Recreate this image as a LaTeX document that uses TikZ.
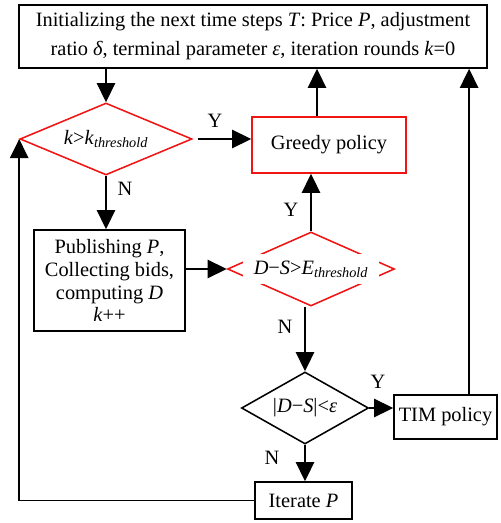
\documentclass[tikz,border=0pt]{standalone}
\usepackage{fontspec}
\setmainfont{Liberation Serif}
\usetikzlibrary{arrows.meta, shapes.geometric}

\begin{document}
\begin{tikzpicture}[x=0.025cm, y=-0.025cm, >={Triangle[length=0.48cm, width=0.46cm]},
  every node/.style={font=\fontsize{14.5}{17}\selectfont},
  procbox/.style={draw, line width=1.1pt, align=center, inner sep=0pt},
  decision/.style={diamond, aspect=2.4, draw, line width=1.1pt, inner sep=0pt},
  flow/.style={->, line width=1.2pt},
  yn/.style={fill=white, inner sep=1pt}]

\definecolor{greedyred}{RGB}{240, 20, 20}

\useasboundingbox (0, 0) rectangle (500, 523);

\node[procbox, minimum width=11.7cm, minimum height=1.575cm, font=\fontsize{14.5}{20.6}\selectfont] (init) at (253, 36.5) {Initializing the next time steps \textit{T}: Price \textit{P}, adjustment\\ ratio \textit{δ}, terminal parameter \textit{ε}, iteration rounds \textit{k}=0};

\node[decision, draw=greedyred, minimum width=4.3cm, minimum height=1.8cm] (d1) at (106, 139) {\textit{k}>\textit{k}\textsubscript{\textit{threshold}}};
\node[procbox, draw=greedyred, minimum width=3.85cm, minimum height=1.4cm] (greedy) at (329, 145) {Greedy policy};

\node[procbox, minimum width=3.775cm, minimum height=2.525cm, font=\fontsize{14.5}{16.3}\selectfont] (pub) at (109.5, 280.5) {Publishing \textit{P},\\ Collecting bids,\\ computing \textit{D}\\ \textit{k}++};
\node[decision, draw=greedyred, minimum width=4.175cm, minimum height=1.85cm] (d2) at (311, 269) {};
\node[fill=white, minimum width=3.4cm, minimum height=0.725cm, inner sep=0pt] (d2text) at (d2) {\textit{D}−\textit{S}>\textit{E}\textsubscript{\textit{threshold}}};

\node[decision, minimum width=3.175cm, minimum height=1.8cm] (d3) at (305, 408) {|\textit{D}−\textit{S}|<\textit{ε}};
\node[procbox, minimum width=2.575cm, minimum height=1.1cm] (tim) at (445.5, 417) {TIM policy};
\node[procbox, minimum width=2.425cm, minimum height=0.925cm] (iter) at (303.5, 500.5) {Iterate \textit{P}};

\node[yn] (y1) at (215, 121) {Y};
\node[yn] (n1) at (125, 189) {N};
\node[yn] (y2) at (291, 210) {Y};
\node[yn] (n2) at (285, 327) {N};
\node[yn] (y3) at (378, 382) {Y};
\node[yn] (n3) at (272, 458) {N};

\coordinate (gtop) at ([xshift=-0.3cm]greedy.north);
\coordinate (ttop) at ([xshift=0.59cm]tim.north);

\draw[flow] (init.south -| d1.north) -- (d1.north);
\draw[flow, shorten <=0.12cm] (d1.east) -- (d1.east -| greedy.west);
\draw[flow] (d1.south) -- (d1.south |- pub.north);
\draw[flow] (pub.east |- d2.west) -- (d2.west);
\draw[flow] (d2.north) -- (d2.north |- greedy.south);
\draw[flow] (gtop) -- (gtop |- init.south);
\draw[flow] (d3.north |- d2.south) -- (d3.north);
\draw[flow] (d3.east) -- (d3.east -| tim.west);
\draw[flow] (ttop) -- (ttop |- init.south);
\draw[flow] (d3.south) -- (d3.south |- iter.north);
\draw[flow] (iter.west) -| (d1.west);

\end{tikzpicture}
\end{document}
